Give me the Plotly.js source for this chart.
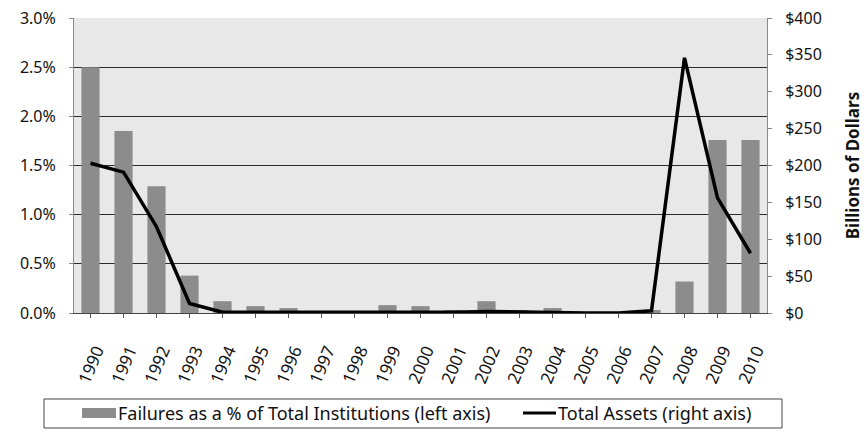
<!DOCTYPE html>
<html>
<head>
<meta charset="utf-8">
<script src="https://cdn.plot.ly/plotly-3.0.1.min.js"></script>
<style>html,body{margin:0;padding:0;background:#fff;}</style>
</head>
<body>
<div id="chart" style="width:864px;height:433px;"></div>
<script>
const years = ["1990","1991","1992","1993","1994","1995","1996","1997","1998","1999","2000","2001","2002","2003","2004","2005","2006","2007","2008","2009","2010"];
const failurePct = [2.50, 1.85, 1.29, 0.38, 0.12, 0.07, 0.05, 0.01, 0.02, 0.08, 0.07, 0.03, 0.12, 0.03, 0.05, 0.00, 0.00, 0.03, 0.32, 1.76, 1.76];
const totalAssets = [203, 191, 117, 13, 1, 1, 0, 0, 0, 1, 1, 1, 2, 1, 0, 0, 0, 3, 346, 156, 81];
const leftTicks = [0, 0.5, 1.0, 1.5, 2.0, 2.5, 3.0];
const rightTicks = [0, 50, 100, 150, 200, 250, 300, 350, 400];
const barName = "Failures as a % of Total Institutions (left axis)";
const lineName = "Total Assets (right axis)";

const font = "Noto Sans, Open Sans, sans-serif";
const barColor = "#8c8c8c";

// pixel -> paper helpers (plot area: x 74..767, y 18..313)
const PL = 74, PW = 693, PB = 313, PH = 295;
const xp = px => (px - PL) / PW;
const yp = py => (PB - py) / PH;

const traces = [
  {
    type: "bar", x: years, y: failurePct, name: barName,
    marker: {color: barColor}, width: 0.55, yaxis: "y"
  },
  {
    type: "scatter", mode: "lines", x: years, y: totalAssets, name: lineName,
    line: {color: "#000", width: 3.5}, yaxis: "y2"
  }
];
const layout = {
  width: 864, height: 433,
  margin: {l: PL, r: 864 - PL - PW, t: 18, b: 433 - PB},
  paper_bgcolor: "#fff",
  plot_bgcolor: "#e8e8e8",
  font: {family: font, size: 16, color: "#111"},
  showlegend: false,
  shapes: [
    {type: "rect", xref: "paper", yref: "paper", x0: xp(44), x1: xp(782), y0: yp(428), y1: yp(399),
     line: {color: "#444", width: 1}, fillcolor: "rgba(0,0,0,0)"},
    {type: "rect", xref: "paper", yref: "paper", x0: xp(82), x1: xp(116), y0: yp(418), y1: yp(408),
     line: {width: 0}, fillcolor: barColor},
    {type: "line", xref: "paper", yref: "paper", x0: xp(523), x1: xp(556), y0: yp(413), y1: yp(413),
     line: {color: "#000", width: 3}}
  ],
  annotations: [
    {xref: "paper", yref: "paper", x: xp(116), y: yp(413), xanchor: "left", yanchor: "middle",
     text: barName, showarrow: false, font: {size: 18}},
    {xref: "paper", yref: "paper", x: xp(556), y: yp(413), xanchor: "left", yanchor: "middle",
     text: lineName, showarrow: false, font: {size: 18}}
  ],
  xaxis: {
    type: "category", tickangle: -67, showgrid: false, zeroline: false,
    ticks: "outside", ticklen: 4, tickcolor: "#555", showline: true, linecolor: "#444",
    tickfont: {size: 17}, ticklabelstandoff: 16, ticklabelshift: 6
  },
  yaxis: {
    range: [0, 3.0], tickvals: leftTicks, ticktext: leftTicks.map(v => v.toFixed(1) + "%"),
    showgrid: true, gridcolor: "#2a2a2a", gridwidth: 1, zeroline: false,
    showline: true, linecolor: "#888", ticks: "outside", ticklen: 4, tickcolor: "#888",
    tickfont: {size: 16}, ticklabelstandoff: 10
  },
  yaxis2: {
    overlaying: "y", side: "right", range: [0, 400], tickvals: rightTicks,
    ticktext: rightTicks.map(v => "$" + v), showgrid: false, zeroline: false,
    showline: true, linecolor: "#888", ticks: "outside", ticklen: 4, tickcolor: "#888",
    tickfont: {size: 16}, ticklabelstandoff: 10,
    title: {text: "<b>Billions of Dollars</b>", font: {size: 17}, standoff: 28}
  }
};
Plotly.newPlot("chart", traces, layout, {displayModeBar: false, staticPlot: true});
</script>
</body>
</html>
